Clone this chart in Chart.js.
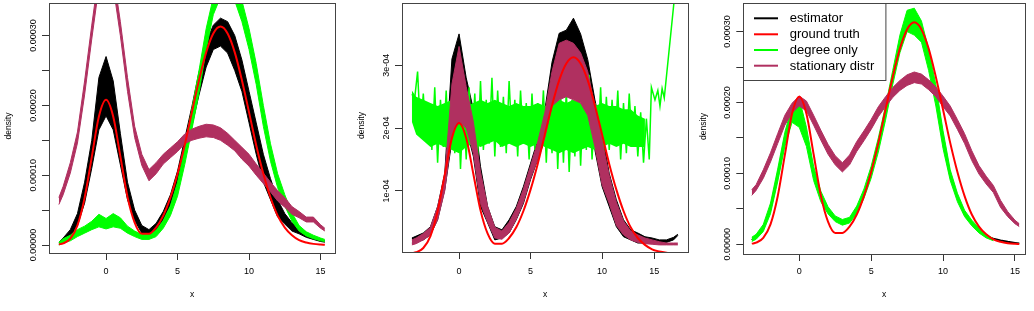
<!DOCTYPE html>
<html><head><meta charset="utf-8">
<script src="https://cdn.jsdelivr.net/npm/chart.js@4.4.1/dist/chart.umd.min.js"></script>
<style>
html,body{margin:0;padding:0;background:#fff;width:1034px;height:311px;overflow:hidden}
.p{position:absolute;top:0;height:311px}
canvas{display:block}
</style></head><body>
<div class="p" style="left:0;width:345px"><canvas id="c1" width="345" height="311"></canvas></div>
<div class="p" style="left:345px;width:345px"><canvas id="c2" width="345" height="311"></canvas></div>
<div class="p" style="left:690px;width:344px"><canvas id="c3" width="344" height="311"></canvas></div>
<script>
// All densities are given in units of 1e-5 (axis labels show the real density)
const seriesNames = ['estimator', 'ground truth', 'degree only', 'stationary distr'];
const seriesColors = ['#000000', '#ff0000', '#00ff00', '#b03060'];

const GX = [-3.3,-3,-2.5,-2,-1.5,-1,-0.5,0,0.5,1,1.5,2,2.5,3,3.5,4,4.5,5,5.5,6,6.5,7,7.5,8,8.5,9,9.5,10,10.5,11,11.5,12,12.5,13,13.5,14,14.5,15,15.3];

const truth = [0.09,0.23,0.91,2.81,6.75,12.6,18.4,20.8,18.4,12.7,6.9,3.2,1.6,1.6,2.5,4.2,6.8,10.2,14.3,19.0,23.6,27.6,30.3,31.3,30.3,27.6,23.6,19.0,14.3,10.2,6.8,4.2,2.5,1.4,0.7,0.35,0.16,0.07,0.04];

// Panel 1
const p1BlackLo = [0.1,0.4,1.2,2.8,6.0,11.0,16.5,18.5,16.5,11.5,6.5,3.5,1.7,1.4,2.1,3.6,5.8,8.8,12.7,17.0,21.5,25.5,28.0,28.5,27.5,25.0,22.0,17.5,13.0,9.0,6.5,4.0,3.0,2.0,1.6,1.1,0.8,0.5,0.4];
const p1BlackHi = [0.4,1.0,2.2,4.5,9.0,15.0,24.0,27.0,23.5,16.0,9.0,5.0,2.8,2.2,3.1,4.8,7.2,10.6,15.2,19.8,24.8,29.0,31.5,32.5,32.0,30.0,26.5,22.0,17.5,13.0,9.5,6.5,4.5,3.2,2.5,1.8,1.2,0.8,0.6];
const p1GreenLo = [0.0,0.3,0.6,1.2,1.7,2.2,2.6,2.3,2.6,2.4,1.7,1.2,0.8,0.8,1.2,2.4,4.2,7.0,11.5,16.5,21.8,28.0,33.0,35.5,36.0,35.0,32.0,28.0,23.0,17.0,12.0,8.2,5.6,3.4,2.0,1.3,0.9,0.6,0.5];
const p1GreenHi = [0.4,0.9,1.4,2.2,2.7,3.4,4.4,3.8,4.5,3.9,2.7,2.0,1.5,1.5,2.1,3.5,5.6,9.0,14.0,19.5,25.0,31.0,35.5,38.0,38.5,37.5,35.0,31.0,26.0,20.0,14.5,10.2,7.2,4.6,2.8,1.9,1.4,1.0,0.8];
const p1PurpleLo = [5.8,7.2,10.3,14.6,21.5,29.5,37,39,37,30,22,15.4,11.4,9.2,10.2,11.6,12.5,13.4,14.5,15.0,15.3,15.5,15.4,15.0,14.3,13.5,12.3,11.3,10.0,8.8,7.6,6.3,5.4,4.4,3.9,3.3,3.3,2.4,2.0];
const p1PurpleHi = [6.8,8.4,11.8,16.2,23.5,31.5,39,41,39,32,24,17.0,13.0,10.8,11.8,13.0,13.9,14.8,15.9,16.6,17.0,17.3,17.2,16.8,16.0,15.0,14.0,13.0,11.6,10.3,9.0,7.8,6.8,5.5,4.8,4.0,4.0,2.9,2.4];

// Panel 2
const p2BlackLo = [1.7,1.9,2.2,3.0,5.4,10.2,18,23,20,15.5,7.5,4.9,2.2,2.5,3.3,5.4,8,11.8,15,18.1,23.4,25.5,27,26,25.5,21.8,16.5,10.7,7.5,4.3,2.7,2.2,1.7,1.7,1.7,1.6,1.8,2.2,2.9];
const p2BlackHi = [2.5,2.8,3.3,4.3,7.5,12.8,31,35,28,23,13.9,7.5,4.3,3.8,5.4,7.5,10.7,14.4,18.1,22.9,30.5,35.1,35.6,37.5,35,30.9,24.5,19.2,12.8,8.6,5.4,3.8,3.3,2.7,2.5,2.2,2.2,2.6,3.1];
const p2PurpleLo = [1.4,1.6,2.2,3.0,5.4,10,19,21,20,16,8,5,2.5,2.3,3.3,5.5,8.2,12,15,18.5,23.5,24.5,25,24.5,24,22,17,11,8,4.5,3,2.2,1.8,1.6,1.5,1.4,1.4,1.4,1.4];
const p2PurpleHi = [2.2,2.5,3.2,4.2,7.5,12.5,27,33,26.6,21,13,7.5,4.2,3.6,5,7.2,10.3,14,17.8,22.5,29,33.5,34,33.5,32,29,23.5,18,12.5,8.2,5.2,3.6,3.0,2.5,2.2,1.9,1.7,1.7,1.7];
// dense core of the noisy "degree only" curve (first 34 grid points, to x = 13)
const p2GreenLo = [21,19,18,17,17.5,17,16.5,16,17,17.5,17,17.5,18,17,17.5,17,17.5,17,17.5,17,16.5,16,16.5,16,16.5,17,16.5,17,17.5,17,17.5,17,17,17];
const p2GreenHi = [26,25,24.5,24,23.5,24,24.5,24,23.5,24,24.5,24,24.5,24,23.5,24,23.5,23.5,24,23.5,24,24.5,24,24.5,24,24,23.5,24,23.5,23.5,23,23,22,21.5];
// its spikes, read every 0.2 from x = -3.3
const p2GreenStart = -3.3, p2GreenStep = 0.2;
const p2Green = [25.4,24.8,29.0,19.5,25.5,18.0,24.0,16.5,26.5,14.5,
  24.5,17.0,26.0,15.5,25.0,16.0,27.0,13.5,24.0,15.0,
  26.5,17.0,25.5,15.5,27.5,16.5,24.5,17.5,28.0,15.5,
  26.0,17.0,25.0,16.0,27.5,18.0,24.5,15.5,26.0,17.5,
  24.0,15.0,25.5,16.5,24.0,18.0,26.0,14.5,25.0,16.0,
  27.0,13.5,25.5,14.5,26.0,13.0,24.5,15.5,27.5,14.0,
  25.0,16.5,28.5,15.0,24.0,17.0,26.5,15.5,25.0,16.5,
  24.5,17.5,26.0,15.0,24.0,16.0,25.5,17.5,23.5,15.5,
  22.5,14.5,21.5,15.0];
const p2GreenTailX = [13.45,13.7,13.9,14.05,14.2,14.35,15.05,15.4];
const p2GreenTailY = [26.5,24.5,26.0,23.5,26.3,24.8,40.5,46.0];

// Panel 3
const p3Black = [0.6,1.0,2.3,5.0,9.7,14.8,18.3,18.5,15.1,10.0,6.7,4.8,3.6,3.1,3.4,4.8,7.1,10.1,14.0,18.5,23.5,28.2,31.5,31.4,30.0,26.0,21.0,14.7,9.7,6.6,4.3,3.0,1.9,1.1,0.8,0.55,0.35,0.2,0.12];
const p3GreenLo = [0.4,0.7,1.8,4.3,8.8,13.8,17.2,16.5,13.8,9.0,6.0,4.3,3.2,2.7,3.0,4.3,6.5,9.3,13.0,17.5,22.5,27.0,30.0,29.5,28.5,24.5,19.5,13.5,9.0,6.0,3.9,2.6,1.6,0.9,0.5];
const p3GreenHi = [1.0,1.4,2.8,5.8,10.6,15.8,19.5,20.6,16.5,11.0,7.5,5.3,4.0,3.5,3.8,5.4,7.8,11.0,15.0,19.5,24.5,29.5,33.0,33.3,31.5,27.5,22.5,16.0,10.5,7.2,4.8,3.4,2.3,1.4,0.8];
const p3PurpleLo = [6.9,7.6,9.3,11.6,14.2,16.8,18.5,19.5,18.8,16.8,14.7,12.7,11.2,10.2,11.2,13.1,14.6,16.2,18.0,19.4,20.7,21.7,22.4,22.8,22.6,21.8,20.8,19.4,18.1,16.2,14.2,11.8,9.9,8.5,7.3,5.2,3.9,2.9,2.5];
const p3PurpleHi = [7.7,8.4,10.5,12.9,15.6,18.2,19.9,20.9,20.2,18.2,16.1,14.1,12.5,11.5,12.6,14.5,16.0,17.6,19.4,20.8,22.1,23.1,23.9,24.3,24.0,23.2,22.2,20.9,19.5,17.6,15.6,13.2,11.1,9.6,8.3,6.2,4.6,3.4,2.9];

// Axis ticks
const xTicks = [0, 5, 10, 15];
const xTickLabels = ['0', '5', '10', '15'];
const xTicks2 = [0, 5, 10, 13.65];
const yTicksFine = [0, 5, 10, 15, 20, 25, 30];
const yLabelVals = [0, 10, 20, 30];
const yLabels = ['0.00000', '0.00010', '0.00020', '0.00030'];
const yTicks2 = [10, 20, 30];
const yLabels2 = ['1e-04', '2e-04', '3e-04'];

const FONT = '"Liberation Sans", Arial, Helvetica, sans-serif';

function pts(xs, ys) { return ys.map((y, i) => ({x: xs[i], y: y})); }
function lineDs(data, color, width, order, smooth) {
  return {data, borderColor: color, backgroundColor: color, borderWidth: width, pointRadius: 0,
    fill: false, order, tension: 0, cubicInterpolationMode: smooth ? 'monotone' : 'default', clip: 0};
}
function bandDs(xs, lo, hi, color, order, bw) {
  const w = bw === undefined ? 1 : bw;
  return [
    {data: pts(xs, lo), borderColor: color, borderWidth: w, pointRadius: 0, fill: false, order, clip: 0},
    {data: pts(xs, hi), borderColor: color, backgroundColor: color, borderWidth: w, pointRadius: 0, fill: '-1', order, clip: 0}
  ];
}

const rPlugin = {
  id: 'rstyle',
  afterDraw(chart, args, o) {
    const ctx = chart.ctx, a = chart.chartArea, sx = chart.scales.x, sy = chart.scales.y;
    ctx.save();
    ctx.fillStyle = '#000';
    ctx.font = '9px ' + FONT;
    ctx.textAlign = 'center'; ctx.textBaseline = 'middle';
    o.yVals.forEach((v, i) => {
      const y = sy.getPixelForValue(v);
      ctx.save(); ctx.translate(a.left - 15.5, y); ctx.rotate(-Math.PI / 2);
      ctx.fillText(o.yLabs[i], 0, 0); ctx.restore();
    });
    o.xVals.forEach((v, i) => {
      ctx.fillText(o.xLabs[i], sx.getPixelForValue(v), 271.7);
    });
    ctx.font = '8.5px ' + FONT;
    ctx.fillText('x', (a.left + a.right) / 2, 295);
    ctx.save(); ctx.translate(a.left - 40, (a.top + a.bottom) / 2 - 2); ctx.rotate(-Math.PI / 2);
    ctx.fillText('density', 0, 0); ctx.restore();
    ctx.strokeStyle = '#444'; ctx.lineWidth = 1;
    const L = Math.round(a.left), T = Math.round(a.top), R = Math.round(a.right), B = Math.round(a.bottom);
    ctx.strokeRect(L + 0.5, T + 0.5, R - L, B - T);
    if (o.legend) {
      const w = 142.4, h = 77;
      ctx.fillStyle = '#fff';
      ctx.fillRect(L, T, w, h);
      ctx.strokeRect(L + 0.5, T + 0.5, w, h);
      ctx.font = '13px ' + FONT;
      ctx.textAlign = 'left';
      const rows = [15.3, 31.3, 47, 62.7];
      seriesNames.forEach((n, i) => {
        const y = T + rows[i];
        ctx.strokeStyle = seriesColors[i]; ctx.lineWidth = 2;
        ctx.beginPath(); ctx.moveTo(L + 11, y); ctx.lineTo(L + 35, y); ctx.stroke();
        ctx.fillStyle = '#000';
        ctx.fillText(n, L + 46.7, y + 0.5);
      });
    }
    ctx.restore();
  }
};

function makeChart(id, c) {
  new Chart(document.getElementById(id), {
    type: 'line',
    data: {datasets: c.datasets},
    options: {
      responsive: false, animation: false, events: [],
      layout: {padding: c.pad},
      plugins: {legend: {display: false}, tooltip: {enabled: false},
        rstyle: {xVals: c.xT, xLabs: xTickLabels, yVals: c.yLV, yLabs: c.yL, legend: !!c.legend}},
      scales: {
        x: {type: 'linear', min: c.xMin, max: c.xMax,
          afterBuildTicks: s => { s.ticks = c.xT.map(v => ({value: v})); },
          afterFit: s => { s.height = c.xH; },
          ticks: {display: false},
          grid: {display: true, drawOnChartArea: false, drawTicks: true, tickLength: 7, color: '#333', lineWidth: 1},
          border: {display: false}},
        y: {type: 'linear', min: c.yMin, max: c.yMax,
          afterBuildTicks: s => { s.ticks = c.yT.map(v => ({value: v})); },
          afterFit: s => { s.width = c.yW; },
          ticks: {display: false},
          grid: {display: true, drawOnChartArea: false, drawTicks: true, tickLength: 7, color: '#333', lineWidth: 1},
          border: {display: false}}
      }
    },
    plugins: [rPlugin]
  });
}

const C = seriesColors;
const p2GreenX = p2Green.map((_, i) => +(p2GreenStart + i * p2GreenStep).toFixed(2));

makeChart('c1', {
  datasets: [
    lineDs(pts(GX, truth), C[1], 2, 0, true),
    ...bandDs(GX, p1PurpleLo, p1PurpleHi, C[3], 1),
    ...bandDs(GX, p1GreenLo, p1GreenHi, C[2], 2),
    ...bandDs(GX, p1BlackLo, p1BlackHi, C[0], 3)
  ],
  pad: {left: 0, right: 10, top: 3, bottom: 0}, xH: 58, yW: 49,
  xMin: -3.99, xMax: 16.01, yMin: -1.146, yMax: 34.67,
  xT: xTicks, yT: yTicksFine, yLV: yLabelVals, yL: yLabels
});

makeChart('c2', {
  datasets: [
    lineDs(pts(GX, truth), C[1], 2, 0, true),
    ...bandDs(GX, p2PurpleLo, p2PurpleHi, C[3], 1),
    lineDs(pts(p2GreenX, p2Green).concat(pts(p2GreenTailX, p2GreenTailY)), C[2], 1.5, 2, false),
    ...bandDs(GX, p2GreenLo, p2GreenHi, C[2], 2, 0),
    ...bandDs(GX, p2BlackLo, p2BlackHi, C[0], 3)
  ],
  pad: {left: 0, right: 2, top: 3, bottom: 0}, xH: 59, yW: 57,
  xMin: -3.99, xMax: 16.01, yMin: 0.27, yMax: 39.92,
  xT: xTicks2, yT: yTicks2, yLV: yTicks2, yL: yLabels2
});

makeChart('c3', {
  datasets: [
    lineDs(pts(GX, truth), C[1], 2, 0, true),
    ...bandDs(GX, p3PurpleLo, p3PurpleHi, C[3], 1),
    ...bandDs(GX, p3GreenLo, p3GreenHi, C[2], 2),
    lineDs(pts(GX, p3Black), C[0], 2, 3, false)
  ],
  pad: {left: 0, right: 9, top: 3, bottom: 0}, xH: 57, yW: 53.3,
  xMin: -3.89, xMax: 15.70, yMin: -1.37, yMax: 34.03,
  xT: xTicks, yT: yTicksFine, yLV: yLabelVals, yL: yLabels, legend: true
});
</script>
</body></html>
